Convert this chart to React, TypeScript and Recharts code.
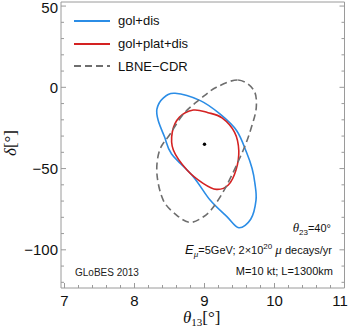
import React from "react";
import { ComposedChart, Line, Scatter, XAxis, YAxis, Legend } from "recharts";

// contours in (theta13, delta), clockwise from the top
const golDis = [
  { x: 8.58, y: -3.7 }, { x: 8.94, y: -8.2 }, { x: 9.22, y: -16.4 }, { x: 9.46, y: -26.7 },
  { x: 9.6, y: -40.0 }, { x: 9.68, y: -50.0 }, { x: 9.72, y: -59.1 }, { x: 9.736, y: -69.4 },
  { x: 9.66, y: -81.2 }, { x: 9.49, y: -86.4 }, { x: 9.32, y: -79.6 }, { x: 9.08, y: -69.4 },
  { x: 8.84, y: -55.0 }, { x: 8.53, y: -41.0 }, { x: 8.43, y: -30.6 }, { x: 8.34, y: -20.6 },
  { x: 8.32, y: -13.4 }, { x: 8.41, y: -6.6 },
];

const golPlatDis = [
  { x: 8.84, y: -14.0 }, { x: 9.05, y: -15.6 }, { x: 9.25, y: -18.8 }, { x: 9.43, y: -27.7 },
  { x: 9.49, y: -39.0 }, { x: 9.45, y: -50.9 }, { x: 9.34, y: -60.1 }, { x: 9.17, y: -62.8 },
  { x: 8.98, y: -59.1 }, { x: 8.75, y: -50.9 }, { x: 8.555, y: -38.6 }, { x: 8.54, y: -27.5 },
  { x: 8.64, y: -18.5 },
];

const lbneCdr = [
  { x: 9.48, y: 4.5 }, { x: 9.7, y: -1.5 }, { x: 9.74, y: -12.1 }, { x: 9.67, y: -24.6 },
  { x: 9.55, y: -39.0 }, { x: 9.32, y: -60.1 }, { x: 9.13, y: -73.5 }, { x: 8.98, y: -79.8 },
  { x: 8.79, y: -83.1 }, { x: 8.6, y: -78.6 }, { x: 8.41, y: -69.4 }, { x: 8.32, y: -53.0 },
  { x: 8.36, y: -38.6 }, { x: 8.51, y: -28.7 }, { x: 8.7, y: -16.4 }, { x: 8.94, y: -7.2 },
  { x: 9.17, y: 0.0 },
];

const bestFit = [{ x: 9.0, y: -35 }];

const seriesOrder = ["gol+dis", "gol+plat+dis", "LBNE\u2212CDR"];
const xMajor = [7, 8, 9, 10, 11];
const yMajor = [-100, -50, 0, 50];
const xTicks: number[] = [];
for (let i = 0; i <= 20; i++) xTicks.push(+(7 + i * 0.2).toFixed(1));
const yTicks: number[] = [];
for (let v = -120; v <= 50; v += 10) yTicks.push(v);

const FRAME = "#9a9a9a";
const SANS = "'Liberation Sans', Arial, sans-serif";
const SERIF = "'Liberation Serif', 'Times New Roman', serif";

// closed catmull-rom through the points
const closedCurve = (ctx: any) => {
  let pts: number[][] = [];
  return {
    areaStart() {},
    areaEnd() {},
    lineStart() { pts = []; },
    point(x: number, y: number) { pts.push([+x, +y]); },
    lineEnd() {
      const n = pts.length;
      if (!n) return;
      ctx.moveTo(pts[0][0], pts[0][1]);
      for (let i = 0; i < n; i++) {
        const p0 = pts[(i - 1 + n) % n], p1 = pts[i], p2 = pts[(i + 1) % n], p3 = pts[(i + 2) % n];
        ctx.bezierCurveTo(
          p1[0] + (p2[0] - p0[0]) / 6, p1[1] + (p2[1] - p0[1]) / 6,
          p2[0] - (p3[0] - p1[0]) / 6, p2[1] - (p3[1] - p1[1]) / 6,
          p2[0], p2[1]
        );
      }
      ctx.closePath();
    },
  };
};

const isMajor = (v: number, majors: number[]) => majors.some((m) => Math.abs(m - v) < 1e-6);

const BottomTick = ({ x, y, payload }: any) => {
  const major = isMajor(payload.value, xMajor);
  // keep the last label inside the page
  const tx = Math.min(x, 340);
  return (
    <g>
      <line x1={x} x2={x} y1={y} y2={y - (major ? 5 : 3)} stroke={FRAME} />
      {major && (
        <text x={tx} y={y + 18} textAnchor="middle" fontSize={15} fontFamily={SANS} fill="#111">
          {payload.value}
        </text>
      )}
    </g>
  );
};

const TopTick = ({ x, y, payload }: any) => {
  const major = isMajor(payload.value, xMajor);
  return <line x1={x} x2={x} y1={y} y2={y + (major ? 5 : 3)} stroke={FRAME} />;
};

const LeftTick = ({ x, y, payload }: any) => {
  const major = isMajor(payload.value, yMajor);
  const label = payload.value < 0 ? "\u2212" + Math.abs(payload.value) : String(payload.value);
  const ty = Math.max(y + 5.5, 13);
  return (
    <g>
      <line x1={x} x2={x + (major ? 5 : 3)} y1={y} y2={y} stroke={FRAME} />
      {major && (
        <text x={x - 3} y={ty} textAnchor="end" fontSize={15} fontFamily={SANS} fill="#111">
          {label}
        </text>
      )}
    </g>
  );
};

const RightTick = ({ x, y, payload }: any) => {
  const major = isMajor(payload.value, yMajor);
  return <line x1={x} x2={x - (major ? 5 : 3)} y1={y} y2={y} stroke={FRAME} />;
};

const dashes: Record<string, string | undefined> = { "LBNE\u2212CDR": "7 4" };

const LegendBox = ({ payload }: any) => {
  const items = (payload || [])
    .filter((e: any) => seriesOrder.includes(e.value))
    .sort((a: any, b: any) => seriesOrder.indexOf(a.value) - seriesOrder.indexOf(b.value));
  return (
    <div style={{ fontFamily: SANS, fontSize: 13, color: "#111" }}>
      {items.map((e: any) => (
        <div key={e.value} style={{ display: "flex", alignItems: "center", height: 22.7 }}>
          <svg width={36} height={4} style={{ marginRight: 8 }}>
            <line x1={0} x2={36} y1={2} y2={2} stroke={e.color} strokeWidth={1.8} strokeDasharray={dashes[e.value]} />
          </svg>
          <span>{e.value}</span>
        </div>
      ))}
    </div>
  );
};

const Dot = ({ cx, cy }: any) => <circle cx={cx} cy={cy} r={1.7} fill="#000" />;

export default function App() {
  return (
    <div style={{ position: "absolute", left: 0, top: 0, width: 350, height: 327, background: "#fff" }}>
      <ComposedChart width={350} height={327} margin={{ top: 1, right: 4.5, bottom: 38, left: 60 }}>
        <XAxis
          dataKey="x" type="number" domain={[6.95, 11]} ticks={xTicks} allowDataOverflow
          height={1} tickSize={0} tickMargin={0} tickLine={false} interval={0}
          axisLine={{ stroke: FRAME }} tick={<BottomTick />}
        />
        <XAxis
          xAxisId="t" orientation="top" type="number" domain={[6.95, 11]} ticks={xTicks} allowDataOverflow
          height={1} tickSize={0} tickMargin={0} tickLine={false} interval={0}
          axisLine={{ stroke: FRAME }} tick={<TopTick />}
        />
        <YAxis
          dataKey="y" type="number" domain={[-123.5, 52.5]} ticks={yTicks} allowDataOverflow
          width={1} tickSize={0} tickMargin={0} tickLine={false} interval={0}
          axisLine={{ stroke: FRAME }} tick={<LeftTick />}
        />
        <YAxis
          yAxisId="r" orientation="right" type="number" domain={[-123.5, 52.5]} ticks={yTicks} allowDataOverflow
          width={1} tickSize={0} tickMargin={0} tickLine={false} interval={0}
          axisLine={{ stroke: FRAME }} tick={<RightTick />}
        />
        <Legend
          layout="horizontal" align="center" verticalAlign="middle" content={<LegendBox />}
          wrapperStyle={{ position: "absolute", left: 74, top: 9.5, width: 160, height: 70 }}
        />
        <Line data={golDis} dataKey="y" name="gol+dis" type={closedCurve as any} stroke="#2b8de6"
          strokeWidth={1.6} dot={false} activeDot={false} isAnimationActive={false} />
        <Line data={golPlatDis} dataKey="y" name="gol+plat+dis" type={closedCurve as any} stroke="#d42222"
          strokeWidth={1.6} dot={false} activeDot={false} isAnimationActive={false} />
        <Line data={lbneCdr} dataKey="y" name={"LBNE\u2212CDR"} type={closedCurve as any} stroke="#6e6e6e"
          strokeWidth={1.6} strokeDasharray="7 4" dot={false} activeDot={false} isAnimationActive={false} />
        <Scatter data={bestFit} dataKey="y" name="best fit" legendType="none" shape={<Dot />} isAnimationActive={false} />
      </ComposedChart>

      <div style={{ position: "absolute", left: 0, top: 143, width: 20, height: 0 }}>
        <div style={{
          position: "absolute", left: 10, top: 0, transform: "translate(-50%, -50%) rotate(-90deg)",
          fontFamily: SERIF, fontSize: 17, lineHeight: 1, whiteSpace: "nowrap", color: "#111",
        }}>
          <i>δ</i>[°]
        </div>
      </div>
      <div style={{ position: "absolute", left: 183, top: 309, fontFamily: SERIF, fontSize: 17, lineHeight: 1, color: "#111", whiteSpace: "nowrap" }}>
        <i>θ</i><span style={{ fontSize: 11, position: "relative", top: 3 }}>13</span>[°]
      </div>

      <div style={{ position: "absolute", left: 75, top: 268, fontFamily: SANS, fontSize: 10, lineHeight: 1, color: "#222" }}>GLoBES 2013</div>

      <div style={{ position: "absolute", right: 19, top: 221, fontFamily: SANS, fontSize: 11, lineHeight: 1, color: "#111", whiteSpace: "nowrap" }}>
        <i style={{ fontFamily: SERIF, fontSize: 13 }}>θ</i>
        <span style={{ fontSize: 8, position: "relative", top: 3 }}>23</span>=40°
      </div>
      <div style={{ position: "absolute", right: 18, top: 243, fontFamily: SANS, fontSize: 11, lineHeight: 1, color: "#111", whiteSpace: "nowrap" }}>
        <i style={{ fontSize: 13 }}>E</i>
        <i style={{ fontFamily: SERIF, fontSize: 9, position: "relative", top: 3 }}>μ</i>
        =5GeV; 2×10<span style={{ fontSize: 8, position: "relative", top: -5 }}>20</span>
        {" "}<i style={{ fontFamily: SERIF, fontSize: 13 }}>μ</i> decays/yr
      </div>
      <div style={{ position: "absolute", right: 17, top: 266, fontFamily: SANS, fontSize: 11, lineHeight: 1, color: "#111", whiteSpace: "nowrap" }}>
        M=10 kt; L=1300km
      </div>
    </div>
  );
}
